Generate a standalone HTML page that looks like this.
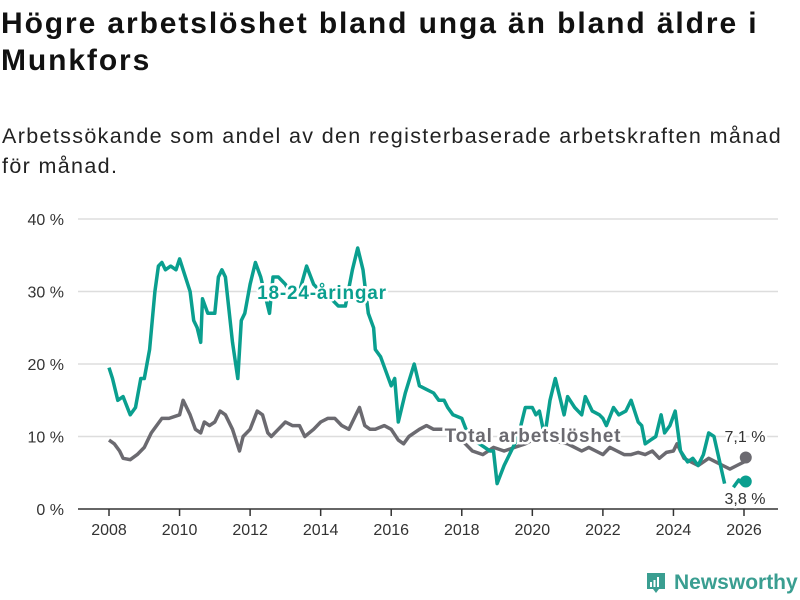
<!DOCTYPE html>
<html><head><meta charset="utf-8">
<style>
body{margin:0;width:800px;height:600px;background:#fff;font-family:"Liberation Sans",sans-serif;overflow:hidden;position:relative;color:#111}
h1{position:absolute;left:1px;top:5px;margin:0;font-size:30px;line-height:37px;font-weight:bold;width:799px;letter-spacing:1.9px;white-space:nowrap}
.sub{position:absolute;left:2px;top:121px;margin:0;font-size:21.5px;line-height:30px;color:#222;width:798px;letter-spacing:1.35px;white-space:nowrap}
svg{position:absolute;left:0;top:0}
</style></head><body>
<h1>Högre arbetslöshet bland unga än bland äldre i<br>Munkfors</h1>
<p class="sub">Arbetssökande som andel av den registerbaserade arbetskraften månad<br>för månad.</p>
<svg id="c" width="800" height="600"></svg>
<script>
const yTicks=[0,10,20,30,40];
const yTickLabels=["0 %","10 %","20 %","30 %","40 %"];
const xTicks=[2008,2010,2012,2014,2016,2018,2020,2022,2024,2026];
const youthT=[2008.0,2008.1,2008.25,2008.4,2008.6,2008.75,2008.9,2009.0,2009.15,2009.3,2009.4,2009.5,2009.6,2009.75,2009.9,2010.0,2010.1,2010.3,2010.4,2010.5,2010.6,2010.65,2010.8,2011.0,2011.1,2011.2,2011.3,2011.5,2011.65,2011.75,2011.85,2012.0,2012.15,2012.3,2012.45,2012.55,2012.65,2012.8,2013.0,2013.2,2013.4,2013.6,2013.8,2014.0,2014.3,2014.5,2014.7,2014.9,2015.05,2015.2,2015.35,2015.5,2015.55,2015.7,2015.85,2016.0,2016.1,2016.2,2016.4,2016.65,2016.8,2017.0,2017.2,2017.35,2017.5,2017.6,2017.75,2018.0,2018.2,2018.5,2018.8,2018.9,2019.0,2019.2,2019.4,2019.6,2019.8,2020.0,2020.1,2020.2,2020.35,2020.5,2020.65,2020.8,2020.9,2021.0,2021.2,2021.4,2021.5,2021.7,2021.9,2022.0,2022.1,2022.3,2022.45,2022.65,2022.8,2023.0,2023.1,2023.2,2023.35,2023.5,2023.65,2023.75,2023.9,2024.05,2024.2,2024.4,2024.55,2024.7,2024.85,2025.0,2025.15,2025.45,2025.55,2025.7,2025.85,2025.95,2026.05];
const youthV=[19.5,18,15,15.5,13,14,18,18,22,30,33.5,34,33,33.5,33,34.5,33,30,26,25,23,29,27,27,32,33,32,23,18,26,27,31,34,32,29,27,32,32,31,29,30,33.5,31,30,29,28,28,33,36,33,27,25,22,21,19,17,18,12,16,20,17,16.5,16,15,15,14,13,12.5,10,9,8,8,3.5,6,8,10,14,14,13,13.5,10,15,18,15,13,15.5,14,13,15.5,13.5,13,12.5,11.5,14,13,13.5,15,12,11.5,9,9.5,10,13,10.5,11.5,13.5,8,6.5,7,6,7.5,10.5,10,3.5,null,3,4,3.5,3.8];
const totalT=[2008.0,2008.15,2008.3,2008.4,2008.6,2008.8,2009.0,2009.2,2009.5,2009.7,2010.0,2010.1,2010.3,2010.45,2010.6,2010.7,2010.85,2011.0,2011.15,2011.3,2011.5,2011.7,2011.8,2012.0,2012.2,2012.35,2012.5,2012.6,2012.8,2013.0,2013.2,2013.4,2013.55,2013.8,2014.0,2014.2,2014.4,2014.6,2014.8,2015.0,2015.1,2015.25,2015.4,2015.55,2015.8,2016.0,2016.2,2016.35,2016.5,2016.8,2017.0,2017.2,2017.6,2018.1,2018.3,2018.6,2018.9,2019.2,2019.5,2019.8,2020.0,2020.5,2021.0,2021.2,2021.4,2021.6,2021.8,2022.0,2022.2,2022.4,2022.6,2022.8,2023.0,2023.2,2023.4,2023.6,2023.8,2024.0,2024.1,2024.3,2024.5,2024.7,2024.85,2025.0,2025.2,2025.4,2025.6,2025.8,2026.0,2026.05];
const totalV=[9.5,9,8,7,6.8,7.5,8.5,10.5,12.5,12.5,13,15,13,11,10.5,12,11.5,12,13.5,13,11,8,10,11,13.5,13,10.5,10,11,12,11.5,11.5,10,11,12,12.5,12.5,11.5,11,13,14,11.5,11,11,11.5,11,9.5,9,10,11,11.5,11,11,9,8,7.5,8.5,8,8.5,9,9.5,9.5,9,8.5,8,8.5,8,7.5,8.5,8,7.5,7.5,7.8,7.5,8,7,7.8,8,9,7,6.5,6,6.5,7,6.5,6,5.5,6,6.5,7.1];
const NS="http://www.w3.org/2000/svg";
const svg=document.getElementById('c');
const X=t=>109+(t-2008)*(635/18);
const Y=v=>509-v*7.25;
function mk(tag,attrs,parent){const e=document.createElementNS(NS,tag);for(const k in attrs)e.setAttribute(k,attrs[k]);(parent||svg).appendChild(e);return e;}
yTicks.forEach((v,i)=>{
  const l=mk('line',{x1:78,x2:778,y1:Y(v),y2:Y(v),stroke:v===0?'#333':'#ddd','stroke-width':1.5});
  
  
  const t=mk('text',{x:64,y:Y(v)+6,'text-anchor':'end','font-size':16,fill:'#333'});
  t.textContent=yTickLabels[i];
  
  
});
xTicks.forEach(v=>{
  const l=mk('line',{x1:X(v),x2:X(v),y1:509,y2:516,stroke:'#333','stroke-width':1.5});
  
  
  const t=mk('text',{x:X(v),y:535,'text-anchor':'middle','font-size':16,fill:'#333'});
  t.textContent=v;
  
  
});
function path(T,V){let d='',pen=false;T.forEach((t,i)=>{if(V[i]==null){pen=false;return;}d+=(pen?'L':'M')+X(t).toFixed(1)+','+Y(V[i]).toFixed(1);pen=true;});return d;}
const tp=mk('path',{d:path(totalT,totalV),fill:'none',stroke:'#6b6a70','stroke-width':3.5,'stroke-linejoin':'round'});


const yp=mk('path',{d:path(youthT,youthV),fill:'none',stroke:'#0a9f8f','stroke-width':3.5,'stroke-linejoin':'round'});


const td=mk('circle',{cx:X(totalT[totalT.length-1]),cy:Y(totalV[totalV.length-1]),r:6,fill:'#6b6a70'});


const yd=mk('circle',{cx:X(youthT[youthT.length-1]),cy:Y(youthV[youthV.length-1]),r:6,fill:'#0a9f8f'});


function lab(txt,x,y,col,name,bold,anchor){
  const t=mk('text',{x:x,y:y,'text-anchor':anchor||'middle','font-size':bold?19:16,'font-weight':bold?'bold':'normal',fill:col,stroke:'#fff','stroke-width':5,'paint-order':'stroke','stroke-linejoin':'round','letter-spacing':bold?0.8:0});
  t.textContent=txt;
  
  
}
lab('18-24-åringar',322,299,'#0a9f8f','youth-series-label',true);
lab('Total arbetslöshet',533,442,'#6b6a70','total-series-label',true);
lab('7,1 %',745,442,'#333','total-end-value',false);
lab('3,8 %',745,504,'#333','youth-end-value',false);
</script>
<div style="position:absolute;left:645px;top:570px;height:26px;display:flex;align-items:center">
<svg width="22" height="24" style="position:relative"><path d="M2 2h18v16h-6l-3 4-3-4H2z" fill="#3a9e91"/><rect x="5" y="11" width="2" height="5" fill="#fff"/><rect x="8.5" y="9" width="2" height="7" fill="#fff"/><rect x="12" y="6" width="2" height="10" fill="#fff"/></svg>
<span style="margin-left:7px;font-size:21px;font-weight:bold;color:#3a9e91">Newsworthy</span>
</div>
</body></html>
